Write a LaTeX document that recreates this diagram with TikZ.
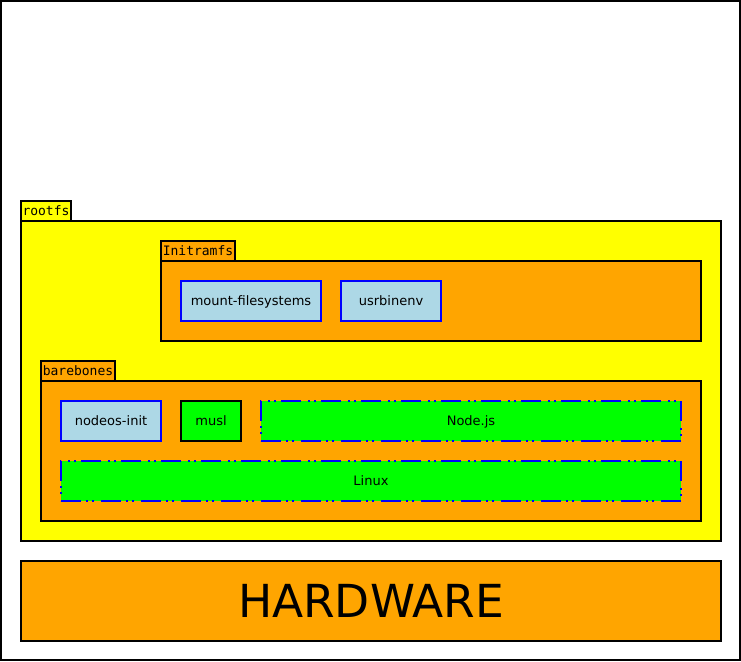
\documentclass[tikz,border=0pt]{standalone}
\usepackage{fontspec}
\setmainfont{DejaVu Sans}
\newfontfamily\tabfont{DejaVu Sans Mono}
\usetikzlibrary{positioning}

\definecolor{layeryellow}{HTML}{FFFF00}
\definecolor{layerorange}{HTML}{FFA500}
\definecolor{pkgblue}{HTML}{ADD8E6}
\definecolor{pkggreen}{HTML}{00FF00}
\definecolor{edgeblue}{HTML}{0000FF}

\tikzset{
  layer/.style={draw=black, line width=2pt, anchor=north west, inner sep=0pt, outer sep=0pt},
  tab/.style={draw=black, line width=2pt, anchor=south west, inner xsep=1.5pt, inner ysep=2pt,
    outer sep=0pt, minimum height=20, font=\tabfont\fontsize{13}{15}\selectfont},
  pkg/.style={draw=edgeblue, line width=2pt, fill=pkgblue, inner sep=0pt,
    minimum height=40, text height=9pt, text depth=1pt, font=\fontsize{13}{15}\selectfont},
  lib/.style={pkg, draw=black, fill=pkggreen},
  ext/.style={pkg, fill=pkggreen,
    dash pattern=on 20pt off 5pt on 2pt off 4pt on 2pt off 7pt}
}

\begin{document}
\begin{tikzpicture}[x=1pt,y=-1pt]
  % frame
  \useasboundingbox (0,0) rectangle (741,661);
  \draw[line width=2pt, fill=white] (1,1) rectangle (740,660);

  % rootfs
  \node[layer, fill=layeryellow, minimum width=700, minimum height=320] (rootfs) at (21,221) {};
  \node[tab, fill=layeryellow, minimum width=50] (rootfstab) at (rootfs.north west) {rootfs};

  % Initramfs
  \node[layer, fill=layerorange, minimum width=540, minimum height=80] (initramfs) at (161,261) {};
  \node[tab, fill=layerorange, minimum width=74] (initramfstab) at (initramfs.north west) {Initramfs};
  \node[pkg, minimum width=140] (mountfs) at (251,301) {mount-filesystems};
  \node[pkg, minimum width=100] (usrbinenv) at (391,301) {usrbinenv};

  % barebones
  \node[layer, fill=layerorange, minimum width=660, minimum height=140] (barebones) at (41,381) {};
  \node[tab, fill=layerorange, minimum width=74] (barebonestab) at (barebones.north west) {barebones};
  \node[pkg, minimum width=100] (nodeosinit) at (111,421) {nodeos-init};
  \node[lib, minimum width=60] (musl) at (211,421) {musl};
  \node[ext, minimum width=420] (nodejs) at (471,421) {Node.js};
  \node[ext, minimum width=620] (linux) at (371,481) {Linux};

  % hardware
  \node[draw=black, line width=2pt, fill=layerorange, minimum width=700, minimum height=80,
    font=\fontsize{45.5}{50}\selectfont] (hardware) at (371,601) {HARDWARE};
\end{tikzpicture}
\end{document}
